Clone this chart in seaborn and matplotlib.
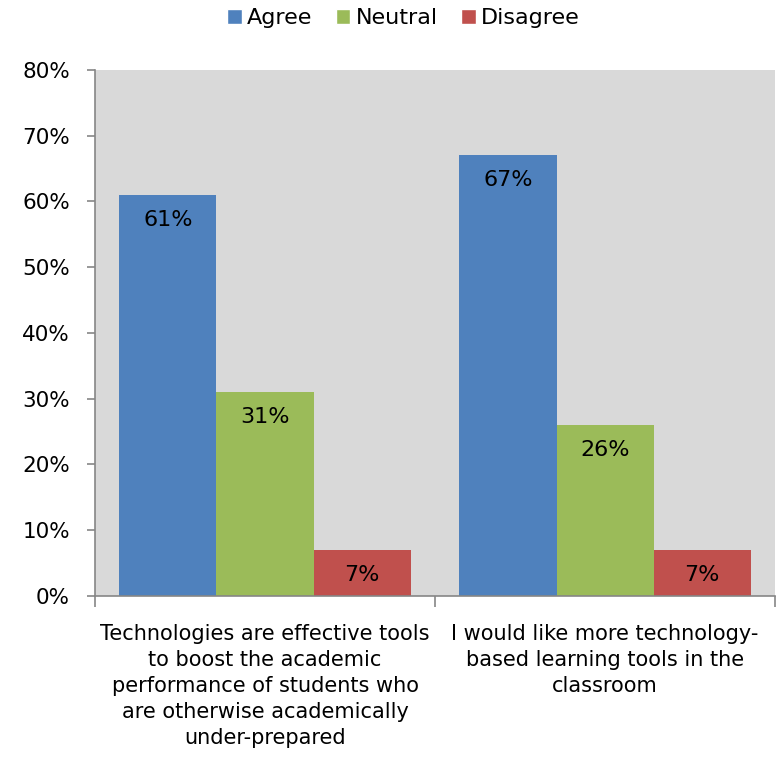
import pandas as pd
import seaborn as sns
import matplotlib.pyplot as plt
from matplotlib.patches import Patch

# datos
categorias = [
    "Technologies are effective tools\nto boost the academic\nperformance of students who\nare otherwise academically\nunder-prepared",
    "I would like more technology-\nbased learning tools in the\nclassroom",
]
respuestas = ["Agree", "Neutral", "Disagree"]
agree = [61, 67]
neutral = [31, 26]
disagree = [7, 7]
colores = ["#4F81BD", "#9BBB59", "#C0504D"]

sns.set_style("white")
plt.rcParams["font.family"] = ["DejaVu Sans"]
plt.rcParams["text.color"] = "black"
plt.rcParams["xtick.color"] = "black"
plt.rcParams["ytick.color"] = "black"

filas = []
for i, cat in enumerate(categorias):
    for resp, vals in zip(respuestas, [agree, neutral, disagree]):
        filas.append({"Categoria": cat, "Respuesta": resp, "Valor": vals[i]})
df = pd.DataFrame(filas)

fig = plt.figure(figsize=(7.79, 7.61), dpi=100)
ax = fig.add_axes([0.122, 0.217, 0.873, 0.691])
ax.set_facecolor("#D9D9D9")

sns.barplot(data=df, x="Categoria", y="Valor", hue="Respuesta",
            hue_order=respuestas, palette=colores, width=0.857, gap=0,
            saturation=1, legend=False, linewidth=0, ax=ax)

# etiquetas dentro de las barras
for cont in ax.containers:
    for bar in cont:
        h = bar.get_height()
        ax.annotate(f"{h:.0f}%", (bar.get_x() + bar.get_width() / 2, h),
                    xytext=(0, -18), textcoords="offset points",
                    ha="center", va="center", fontsize=16, color="black")

ax.set_ylim(0, 80)
ax.set_xlim(-0.5, 1.5)
ax.set_yticks(range(0, 81, 10))
ax.set_yticklabels([f"{v}%" for v in range(0, 81, 10)], fontsize=15.5)
ax.tick_params(axis="y", length=6, width=1.2, color="#868686", pad=12,
               left=True, labelcolor="black")

ax.set_xticks([-0.5, 0.5, 1.5])
ax.set_xticklabels([])
ax.tick_params(axis="x", which="major", length=8, width=1.2,
               color="#868686", bottom=True, direction="out")
ax.set_xticks([0, 1], minor=True)
ax.set_xticklabels(categorias, minor=True, fontsize=15, linespacing=1.38,
                   va="top", color="black")
ax.tick_params(axis="x", which="minor", length=0, pad=20)

ax.set_xlabel("")
ax.set_ylabel("")
for lado in ["top", "right"]:
    ax.spines[lado].set_visible(False)
for lado in ["left", "bottom"]:
    ax.spines[lado].set_color("#868686")
    ax.spines[lado].set_linewidth(1.2)

handles = [Patch(facecolor=c, label=r) for c, r in zip(colores, respuestas)]
fig.legend(handles=handles, loc="center", bbox_to_anchor=(0.518, 0.976),
           ncol=3, frameon=False, fontsize=16, handlelength=0.65,
           handleheight=0.65, handletextpad=0.25, columnspacing=1.05)

fig.savefig("out.png", dpi=100)
